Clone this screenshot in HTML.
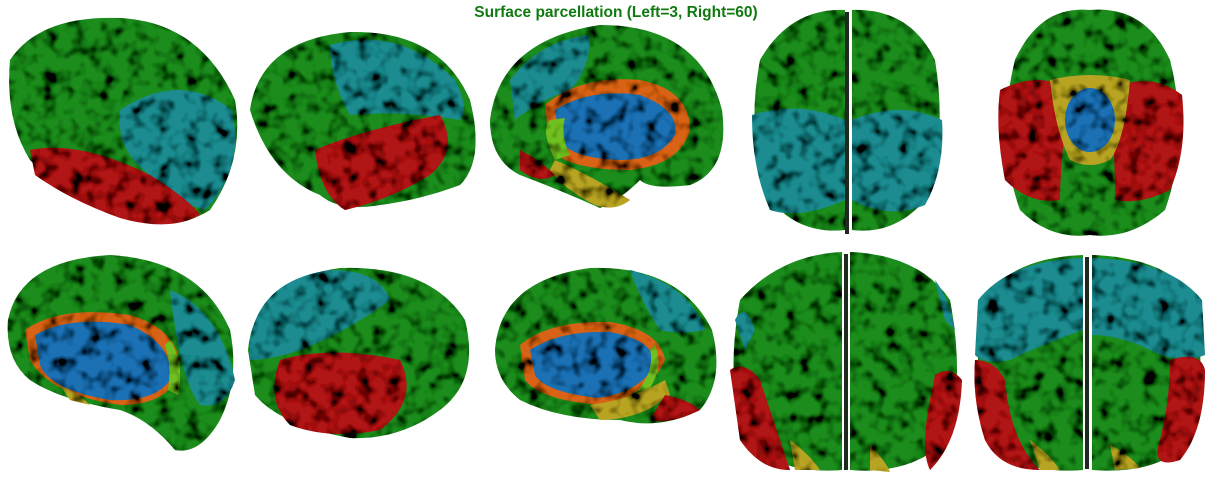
<!DOCTYPE html>
<html><head><meta charset="utf-8"><style>
html,body{margin:0;padding:0;background:#fff;width:1210px;height:484px;overflow:hidden}
svg{display:block}
</style></head><body>
<svg width="1210" height="484" viewBox="0 0 1210 484">
<defs>
<filter id="gyri" x="0" y="0" width="1210" height="484" filterUnits="userSpaceOnUse">
<feTurbulence type="fractalNoise" baseFrequency="0.07" numOctaves="2" seed="3" result="n"/>
<feColorMatrix in="n" type="matrix" values="0 0 0 0 0  0 0 0 0 0  0 0 0 0 0  0 0 0 -3.2 1.75" result="dark"/>
<feComposite in="dark" in2="SourceAlpha" operator="in" result="darkIn"/>
<feMerge><feMergeNode in="SourceGraphic"/><feMergeNode in="darkIn"/></feMerge>
</filter>
</defs>
<text x="616" y="17" text-anchor="middle" font-family="Liberation Sans, sans-serif" font-weight="bold" font-size="15.5" fill="#107a10">Surface parcellation (Left=3, Right=60)</text>

<g filter="url(#gyri)">
<!-- View 1 -->
<g>
<path d="M10,60 Q40,15 120,18 Q200,22 235,100 Q245,160 210,210 Q170,235 120,215 Q60,190 30,160 Q5,120 10,60Z" fill="#1e8c1e"/>
<path d="M120,110 Q180,70 232,110 Q245,170 205,210 Q170,200 150,175 Q115,150 120,110Z" fill="#1f8c90"/>
<path d="M30,150 Q80,140 150,175 Q190,200 200,215 Q170,232 120,218 Q70,200 35,175Z" fill="#b01414"/>
</g>
<!-- View 2 -->
<g>
<path d="M250,110 Q260,40 350,32 Q440,30 470,100 Q485,160 460,185 Q420,200 380,205 Q340,212 320,195 Q270,175 250,110Z" fill="#1e8c1e"/>
<path d="M330,45 Q400,25 455,80 Q470,110 460,120 Q400,110 350,115 Q330,80 330,45Z" fill="#1f8c90"/>
<path d="M315,150 Q360,130 440,115 Q460,150 430,175 Q390,200 345,210 Q320,195 315,150Z" fill="#b01414"/>
</g>
<!-- View 3 -->
<g>
<path d="M490,120 Q500,40 600,25 Q700,25 722,110 Q730,170 690,185 Q650,190 640,180 Q620,200 600,208 Q560,190 520,175 Q490,160 490,120Z" fill="#1e8c1e"/>
<path d="M510,80 Q540,40 590,35 Q590,70 570,90 Q540,100 515,120Z" fill="#1f8c90"/>
<path d="M545,105 Q580,75 640,80 Q690,90 690,130 Q680,165 630,170 Q570,170 550,150Z" fill="#d86212"/>
<path d="M555,110 Q590,88 640,95 Q680,110 675,135 Q660,160 620,160 Q570,158 560,140Z" fill="#1a70b4"/>
<path d="M550,120 Q540,130 555,160 L570,155 Q560,135 565,118Z" fill="#70c020"/>
<path d="M555,160 Q590,175 630,200 Q615,212 595,205 Q565,190 550,170Z" fill="#b8a424"/>
<path d="M520,150 Q540,160 555,175 Q540,185 520,170Z" fill="#b01414"/>
</g>
<!-- View 4 -->
<g>
<path d="M845,10 Q790,8 760,60 Q745,140 770,200 Q800,235 845,230Z" fill="#1e8c1e"/>
<path d="M852,10 Q910,8 935,60 Q948,140 925,200 Q895,235 852,230Z" fill="#1e8c1e"/>
<path d="M752,115 Q800,100 845,120 L845,200 Q800,220 770,210 Q752,170 752,115Z" fill="#1f8c90"/>
<path d="M852,120 Q900,100 942,120 Q945,170 925,205 Q890,220 852,200Z" fill="#1f8c90"/>
</g>
<!-- View 5 -->
<g>
<path d="M1090,10 Q1040,5 1015,60 Q995,140 1020,210 Q1050,240 1090,235 Q1130,240 1165,210 Q1190,140 1170,60 Q1145,5 1090,10Z" fill="#1e8c1e"/>
<path d="M1000,90 Q1040,70 1070,90 Q1060,160 1060,200 Q1030,205 1005,180 Q995,130 1000,90Z" fill="#b01414"/>
<path d="M1110,90 Q1150,70 1182,95 Q1188,150 1170,190 Q1140,205 1115,200 Q1115,150 1110,90Z" fill="#b01414"/>
<path d="M1050,80 Q1090,70 1130,80 Q1125,140 1110,160 Q1090,170 1070,160 Q1055,130 1050,80Z" fill="#b8a424"/>
<ellipse cx="1090" cy="120" rx="25" ry="32" fill="#1a70b4"/>
</g>
<!-- View 6 -->
<g>
<path d="M8,320 Q20,260 110,255 Q200,260 230,330 Q240,380 220,420 Q200,455 175,450 Q150,420 120,410 Q60,400 30,380 Q5,360 8,320Z" fill="#1e8c1e"/>
<path d="M170,290 Q220,310 235,380 Q225,410 200,405 Q180,380 170,290Z" fill="#1f8c90"/>
<path d="M25,330 Q60,305 130,315 Q180,330 180,370 Q170,405 120,405 Q50,395 30,360Z" fill="#d86212"/>
<path d="M35,335 Q70,315 130,325 Q175,345 170,380 Q155,402 110,400 Q50,390 40,365Z" fill="#1a70b4"/>
<path d="M170,340 Q185,365 178,395 L168,390 Q172,365 165,345Z" fill="#70c020"/>
<path d="M60,385 Q80,395 90,405 L70,400Z" fill="#b8a424"/>
</g>
<!-- View 7 -->
<g>
<path d="M248,350 Q255,280 340,268 Q430,265 465,320 Q480,380 440,410 Q400,440 350,438 Q280,425 255,395Z" fill="#1e8c1e"/>
<path d="M250,340 Q260,280 330,270 Q380,270 390,300 Q350,330 300,350 Q270,360 250,360Z" fill="#1f8c90"/>
<path d="M280,360 Q330,345 400,360 Q420,400 380,430 Q330,440 290,425 Q265,400 280,360Z" fill="#b01414"/>
</g>
<!-- View 8 -->
<g>
<path d="M495,350 Q500,280 590,268 Q680,265 712,330 Q725,380 700,410 Q660,430 620,420 Q560,420 520,400 Q495,380 495,350Z" fill="#1e8c1e"/>
<path d="M630,270 Q690,285 705,330 Q680,335 660,330 Q640,300 630,270Z" fill="#1f8c90"/>
<path d="M520,345 Q550,320 610,322 Q660,330 665,360 Q650,395 600,405 Q540,400 525,380Z" fill="#d86212"/>
<path d="M530,350 Q560,330 610,332 Q655,340 655,365 Q640,392 598,398 Q545,392 535,375Z" fill="#1a70b4"/>
<path d="M655,345 Q665,370 645,395 L638,390 Q655,370 650,350Z" fill="#70c020"/>
<path d="M590,405 Q630,400 665,380 L670,395 Q640,420 600,420Z" fill="#b8a424"/>
<path d="M665,395 Q690,400 700,410 Q670,425 650,420Z" fill="#b01414"/>
</g>
<!-- View 9 -->
<g>
<path d="M842,252 Q780,255 740,300 Q725,380 745,440 Q780,475 842,470Z" fill="#1e8c1e"/>
<path d="M850,252 Q920,255 950,300 Q965,380 948,440 Q910,475 850,470Z" fill="#1e8c1e"/>
<path d="M730,370 Q745,360 760,380 Q780,440 790,470 Q760,470 740,440Z" fill="#b01414"/>
<path d="M935,375 Q950,365 962,380 Q960,440 930,470 Q920,450 930,400Z" fill="#b01414"/>
<path d="M735,320 Q745,300 755,330 L745,350Z" fill="#1f8c90"/>
<path d="M935,280 Q950,300 955,330 L945,320Z" fill="#1f8c90"/>
<path d="M790,440 Q810,455 820,470 L795,470Z" fill="#b8a424"/>
<path d="M870,445 Q885,460 890,472 L870,470Z" fill="#b8a424"/>
</g>
<!-- View 10 -->
<g>
<path d="M1083,255 Q1010,258 985,300 Q970,380 985,440 Q1020,475 1083,470Z" fill="#1e8c1e"/>
<path d="M1092,255 Q1170,258 1195,300 Q1208,380 1190,440 Q1160,475 1092,470Z" fill="#1e8c1e"/>
<path d="M978,300 Q1010,260 1083,258 L1083,330 Q1040,345 1010,360 Q985,365 975,355Z" fill="#1f8c90"/>
<path d="M1092,258 Q1170,260 1202,300 L1205,355 Q1180,365 1150,350 Q1120,335 1092,335Z" fill="#1f8c90"/>
<path d="M975,360 Q995,360 1005,380 Q1010,440 1040,470 Q1000,470 985,440 Q972,400 975,360Z" fill="#b01414"/>
<path d="M1170,360 Q1200,350 1205,370 Q1205,430 1180,460 Q1150,470 1160,440 Q1170,400 1170,360Z" fill="#b01414"/>
<path d="M1030,440 Q1050,455 1060,470 L1040,470Z" fill="#b8a424"/>
<path d="M1110,445 Q1130,455 1140,468 L1115,470Z" fill="#b8a424"/>
</g>
</g>
<rect x="845" y="12" width="4" height="222" fill="#1e2a1e"/>
<rect x="844" y="254" width="4" height="216" fill="#1e2a1e"/>
<rect x="1085" y="257" width="4" height="212" fill="#1e2a1e"/>
</svg>
</body></html>
